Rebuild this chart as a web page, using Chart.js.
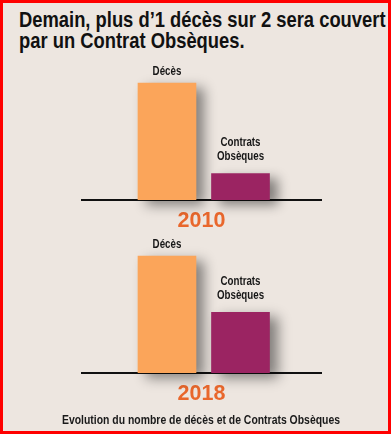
<!DOCTYPE html>
<html lang="fr">
<head>
<meta charset="utf-8">
<script src="https://cdn.jsdelivr.net/npm/chart.js@4.4.1/dist/chart.umd.min.js"></script>
<style>
  html, body { margin: 0; padding: 0; background: #ede6e0; }
  #frame {
    position: relative;
    width: 391px;
    height: 434px;
    background: #ede6e0;
    box-shadow: inset 0 0 0 3px #ff0000;
    overflow: hidden;
    font-family: "Liberation Sans", Arial, sans-serif;
    color: #111;
  }
  #title {
    position: absolute;
    left: 19px;
    top: 10px;
    font-size: 22px;
    font-weight: bold;
    line-height: 20.5px;
    white-space: nowrap;
    transform: scaleX(0.835);
    transform-origin: 0 0;
  }
  .chart-box {
    position: absolute;
    left: 0;
    width: 391px;
    height: 175px;
  }
  #caption {
    position: absolute;
    left: 11px;
    width: 380px;
    top: 412.7px;
    text-align: center;
    font-size: 12.5px;
    font-weight: bold;
    line-height: 14px;
    white-space: nowrap;
    color: #1a1a1a;
    transform: scaleX(0.834);
    transform-origin: 50% 0;
  }
</style>
</head>
<body>
<div id="frame">
  <div id="title">Demain, plus d’1 décès sur 2 sera couvert<br>par un Contrat Obsèques.</div>
  <div class="chart-box" style="top:60px"><canvas id="chart2010" width="391" height="175"></canvas></div>
  <div class="chart-box" style="top:233px"><canvas id="chart2018" width="391" height="175"></canvas></div>
  <div id="caption">Evolution du nombre de décès et de Contrats Obsèques</div>
</div>

<script>
// données (base 100 = nombre de décès)
const categories = [["Décès"], ["Contrats", "Obsèques"]];
const years = ["2010", "2018"];
const values2010 = [100, 22.4];
const values2018 = [100, 51.7];

const barColors = ["#fba55a", "#9b2462"];
const yearColor = "#e9672c";

// ombre portée sous les barres
const barShadow = {
  id: "barShadow",
  beforeDatasetDraw(chart) {
    const ctx = chart.ctx;
    ctx.save();
    ctx.shadowColor = "rgba(0, 0, 0, 0.45)";
    ctx.shadowBlur = 12;
    ctx.shadowOffsetX = 8;
    ctx.shadowOffsetY = 5;
  },
  afterDatasetDraw(chart) {
    chart.ctx.restore();
  },
};

// libellés au-dessus de chaque barre (police étroite simulée par un scaleX)
const barLabels = {
  id: "barLabels",
  afterDatasetsDraw(chart) {
    const ctx = chart.ctx;
    const meta = chart.getDatasetMeta(0);
    meta.data.forEach((bar, i) => {
      const lines = categories[i];
      const gap = lines.length > 1 ? 13 : 8;
      lines
        .slice()
        .reverse()
        .forEach((line, k) => {
          ctx.save();
          ctx.font = 'bold 12.2px "Liberation Sans", Arial, sans-serif';
          ctx.fillStyle = "#161616";
          ctx.textAlign = "center";
          ctx.textBaseline = "alphabetic";
          ctx.translate(bar.x, bar.y - gap - k * 14);
          ctx.scale(0.8, 1);
          ctx.fillText(line, 0, 0);
          ctx.restore();
        });
    });
  },
};

function makeChart(canvasId, year, values) {
  const canvas = document.getElementById(canvasId);
  return new Chart(canvas, {
    type: "bar",
    data: {
      datasets: [
        {
          data: values.map((v, i) => ({ x: i, y: v })),
          backgroundColor: barColors,
          borderWidth: 0,
          barThickness: 58,
          clip: false,
        },
      ],
    },
    options: {
      responsive: false,
      animation: false,
      devicePixelRatio: 1,
      layout: { padding: { top: 23, left: 82, right: 70, bottom: 0 } },
      plugins: {
        legend: { display: false },
        tooltip: { enabled: false },
      },
      scales: {
        x: {
          type: "linear",
          min: -1.156,
          max: 2.095,
          offset: false,
          z: 1,
          grid: { display: false, drawTicks: false, tickLength: 0 },
          border: { display: true, color: "#111111", width: 2 },
          ticks: { display: false },
          title: {
            display: true,
            text: year,
            color: yearColor,
            font: { family: '"Liberation Sans", Arial, sans-serif', size: 21.5, weight: "bold" },
            padding: { top: 8.5, bottom: 1.1 },
          },
        },
        y: {
          display: false,
          min: 0,
          max: 100,
        },
      },
    },
    plugins: [barShadow, barLabels],
  });
}

makeChart("chart2010", years[0], values2010);
makeChart("chart2018", years[1], values2018);
</script>
</body>
</html>
